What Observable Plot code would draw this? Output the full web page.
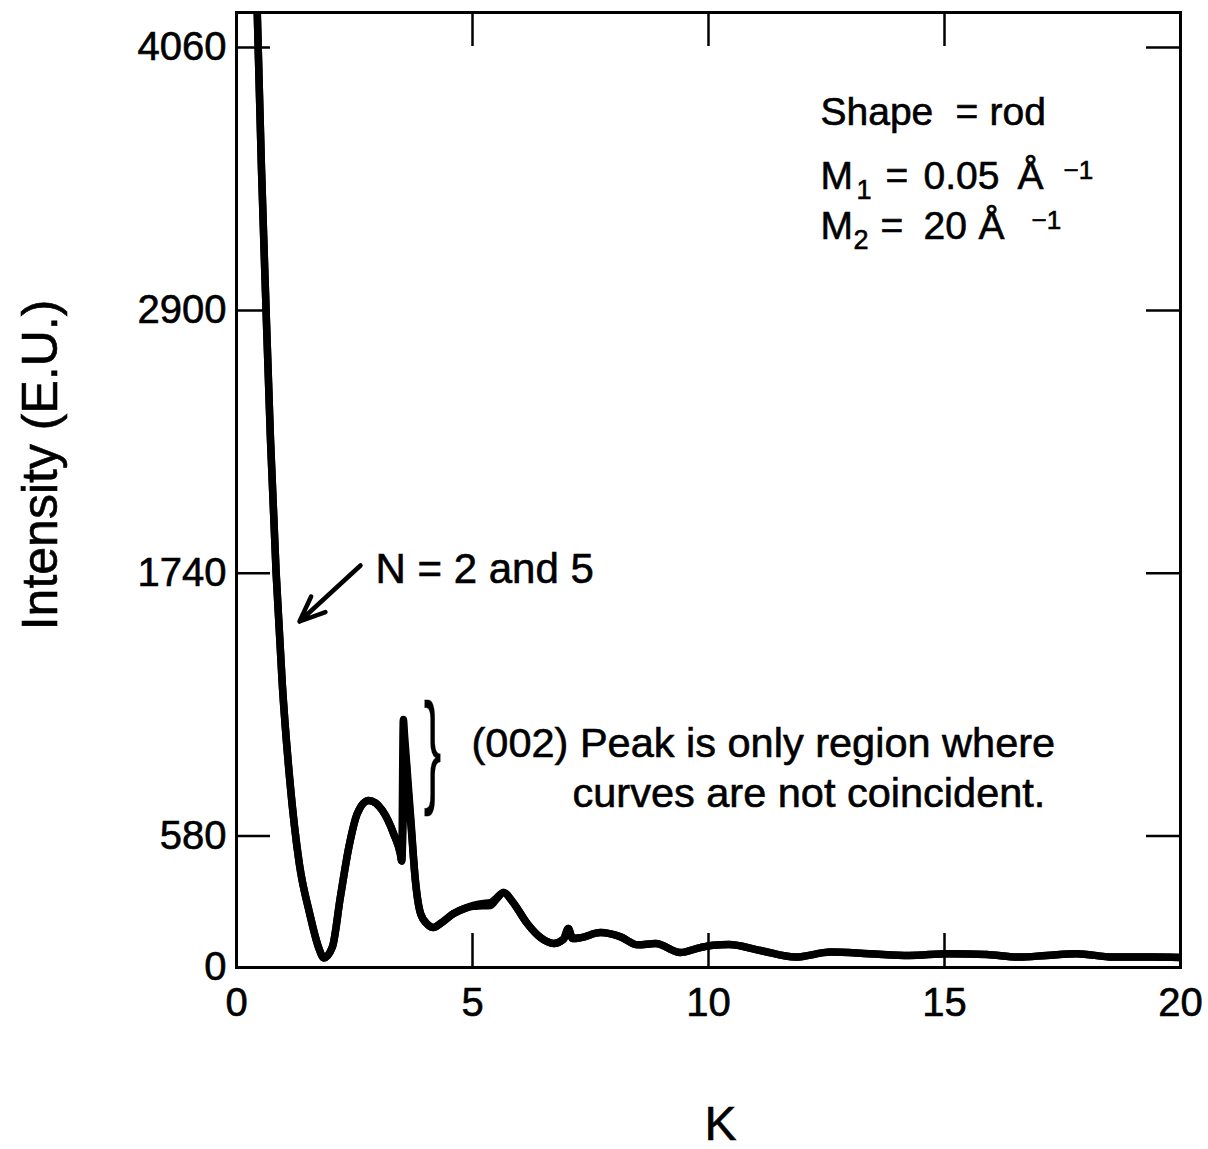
<!DOCTYPE html>
<html><head><meta charset="utf-8">
<script src="https://cdn.jsdelivr.net/npm/d3@7"></script>
<script src="https://cdn.jsdelivr.net/npm/@observablehq/plot@0.6"></script>
<style>
html,body{margin:0;padding:0;background:#fff;}
#chart svg{display:block;}
#chart svg text{stroke:black;stroke-width:0.6px;}
#chart svg .brace text{stroke-width:0.3px;}
</style></head><body><div id="chart"></div>
<script>
// ---- data ----
const kValues = [0.30,0.44,0.53,0.62,0.72,0.84,0.97,1.13,1.33,1.55,1.74,1.85,2.03,2.2,2.38,2.56,2.80,3.09,3.33,3.47,3.50,3.535,3.56,3.58,3.62,3.66,3.70,3.79,3.90,4.05,4.17,4.32,4.6,4.85,5.02,5.2,5.38,5.5,5.66,5.85,6.16,6.44,6.72,6.93,7.03,7.12,7.3,7.71,8.14,8.5,8.88,9.4,9.83,10.1,10.43,11.1,11.84,12.59,13.4,14.25,15.08,15.9,16.58,17.16,17.8,18.57,19.4,20];
const intensityN2 = [5300,4214,3520,2943,2330,1740,1250,825,459,238,88,42,90,310,531,680,737,693,590,503,470,1095,1025,970,858,746,635,384,238,190,177,194,238,262,274,282,286,305,331,290,194,132,106,125,172,128,132,154,135,100,106,66,88,98,101,75,46,68,61,53,61,57,46,53,61,46,46,44];
const intensityN5 = [5300,4214,3520,2943,2330,1740,1250,825,459,238,88,42,90,310,531,680,737,693,590,503,470,670,815,930,826,722,618,384,238,190,177,194,238,262,270,272,274,300,331,290,194,132,106,125,172,128,132,154,135,100,106,66,88,98,101,75,46,68,61,53,61,57,46,53,61,46,46,44];
const seriesNames = ["N = 2", "N = 5"];
const xTickValues = [0, 5, 10, 15, 20];
const yTickValues = [0, 580, 1740, 2900, 4060];
const innerXTicks = [5, 10, 15];
const innerYTicks = [580, 1740, 2900, 4060];
const xLabel = "K";
const yLabel = "Intensity (E.U.)";
const seriesNote = "N = 2 and 5";
const peakNote = ["(002) Peak is only region where", "curves are not coincident."];

// ---- layout ----
const W = 1208, H = 1149;
const mL = 236, mR = 28, mT = 12, mB = 182;
const xMax = 20, yMax = 4215;
const tickPx = 34;
const yTickLen = tickPx * yMax / (H - mT - mB);
const xTickLen = tickPx * xMax / (W - mL - mR);
const FONT = "'Liberation Sans', Arial, Helvetica, sans-serif";

const data = [];
kValues.forEach((k, i) => {
  data.push({k, I: intensityN2[i], series: seriesNames[0]});
});
kValues.forEach((k, i) => {
  data.push({k, I: intensityN5[i], series: seriesNames[1]});
});

// annotation pieces: [text, px-left, px-baseline, fontSize]
const params = [
  ["Shape", 820, 124, 39], ["=", 955, 124, 39], ["rod", 989, 124, 39],
  ["M", 820, 188, 39], ["1", 856, 198, 27], ["=", 885, 188, 39], ["0.05", 923, 188, 39], ["Å", 1017, 188, 39], ["\u22121", 1063, 178, 26],
  ["M", 820, 238, 39], ["2", 853, 248, 27], ["=", 880, 238, 39], ["20", 923, 238, 39], ["Å", 978, 238, 39], ["\u22121", 1031, 228, 26]
];
const notes = [
  [seriesNote, 375, 582, 42],
  [peakNote[0], 471, 756, 41.5],
  [peakNote[1], 572, 806, 41.5]
];
const px2x = p => (p - mL) / (W - mL - mR) * xMax;
const py2y = p => (H - mB - p) / (H - mT - mB) * yMax;
const arrowSpec = [{x1: px2x(360), y1: py2y(565), x2: px2x(299), y2: py2y(621)}];

const textPieces = [...params, ...notes].map(([t, x, y, s]) =>
  Plot.text([t], {frameAnchor: "top-left", dx: x - mL, dy: y - mT, fontSize: s, textAnchor: "start", lineAnchor: "bottom", fill: "black"})
);

const chart = Plot.plot({
  width: W, height: H,
  marginLeft: mL, marginRight: mR, marginTop: mT, marginBottom: mB,
  style: {fontFamily: FONT, background: "white", color: "black"},
  x: {domain: [0, xMax], label: null},
  y: {domain: [0, yMax], label: null},
  marks: [
    Plot.line(data, {x: "k", y: "I", z: "series", stroke: "black", strokeWidth: 7.5, curve: "monotone-x", clip: true, strokeLinejoin: "round", strokeLinecap: "round"}),
    Plot.ruleX(innerXTicks, {x: d => d, y1: 0, y2: yTickLen, stroke: "black", strokeWidth: 2.5}),
    Plot.ruleX(innerXTicks, {x: d => d, y1: yMax - yTickLen, y2: yMax, stroke: "black", strokeWidth: 2.5}),
    Plot.ruleY(innerYTicks, {y: d => d, x1: 0, x2: xTickLen, stroke: "black", strokeWidth: 2.5}),
    Plot.ruleY(innerYTicks, {y: d => d, x1: xMax - xTickLen, x2: xMax, stroke: "black", strokeWidth: 2.5}),
    Plot.frame({stroke: "black", strokeWidth: 3}),
    Plot.axisX(xTickValues, {anchor: "bottom", tickSize: 0, tickPadding: 20, fontSize: 40, label: null, tickFormat: d => String(d)}),
    Plot.axisY(yTickValues, {anchor: "left", tickSize: 0, tickPadding: 10, fontSize: 40, label: null, tickFormat: d => String(d)}),
    Plot.text([yLabel], {frameAnchor: "left", dx: -196, dy: -25, rotate: -90, fontSize: 50, textAnchor: "middle", lineAnchor: "middle"}),
    Plot.text([xLabel], {frameAnchor: "bottom", dx: 12, dy: 172, fontSize: 48, textAnchor: "middle", lineAnchor: "bottom"}),
    Plot.arrow(arrowSpec, {x1: "x1", y1: "y1", x2: "x2", y2: "y2", stroke: "black", strokeWidth: 4.5, headLength: 22, headAngle: 45}),
    Plot.text(["}"], {frameAnchor: "top-left", dx: 432 - mL, dy: 789 - mT, fontSize: 125, textAnchor: "middle", lineAnchor: "bottom", className: "brace"}),
    ...textPieces
  ]
});
document.getElementById("chart").appendChild(chart);

// narrow the brace glyph horizontally around its anchor
const braceText = chart.querySelector(".brace text");
if (braceText) {
  const t = braceText.getAttribute("transform") || "";
  const bx = +(braceText.getAttribute("x") || 0);
  braceText.setAttribute("transform", `${t} translate(${bx},0) scale(0.42,1) translate(${-bx},0)`);
}
</script>
</body></html>
